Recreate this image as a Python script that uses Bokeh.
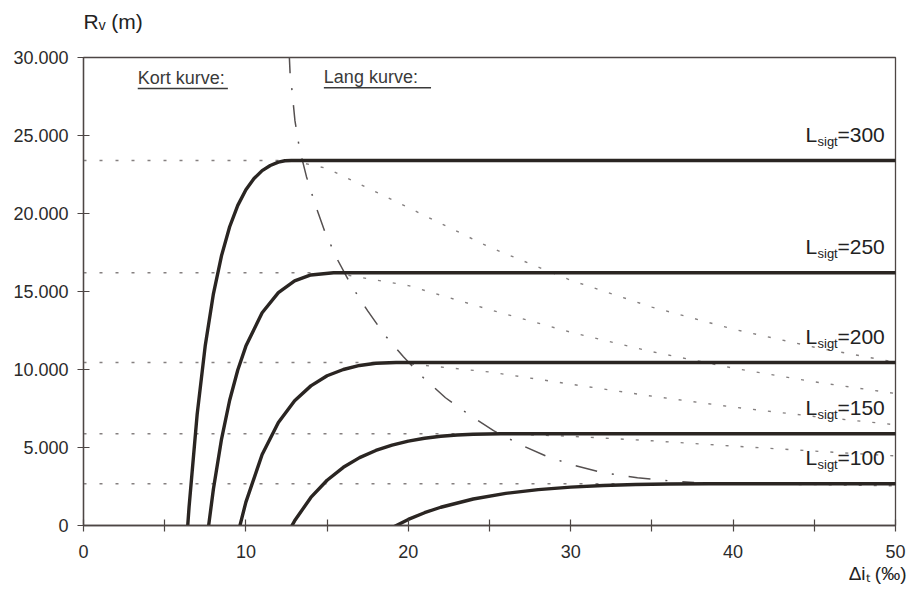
from bokeh.plotting import figure
from bokeh.models import Label, FixedTicker, Title
from bokeh.embed import file_html
from bokeh.resources import INLINE

# ---- data ----
l_sigt = [300, 250, 200, 150, 100]
r_plateau = [23400, 16200, 10450, 5880, 2680]
tangent_di = [12.8, 15.4, 19.25, 25.7, 38.5]

# thick curves (short curve part rising to the plateau, then plateau to 50 permille)
curve_di_300 = [6.35, 6.5, 7, 7.5, 8, 8.5, 9, 9.5, 10, 10.5, 11, 11.5, 12, 12.4, 12.8, 50]
curve_r_300 = [-1000, 1180, 7140, 11560, 14850, 17300, 19150, 20520, 21520, 22240, 22750, 23080, 23290, 23380, 23400, 23400]
curve_di_250 = [7.62, 8, 8.5, 9, 9.5, 10, 11, 12, 13, 14, 15.4, 50]
curve_r_250 = [-690, 2340, 5540, 8030, 9970, 11500, 13640, 14930, 15680, 16060, 16200, 16200]
curve_di_200 = [9.5, 10, 11, 12, 13, 14, 15, 16, 17, 18, 19.25, 50]
curve_r_200 = [-550, 1500, 4550, 6600, 8000, 8950, 9600, 10000, 10260, 10400, 10450, 10450]
curve_di_150 = [12.5, 13, 14, 15, 16, 17, 18, 19, 20, 21, 22, 23, 24, 25.7, 50]
curve_r_150 = [-640, 300, 1800, 2900, 3730, 4350, 4810, 5150, 5410, 5590, 5720, 5800, 5850, 5880, 5880]
curve_di_100 = [18.3, 19, 20, 21, 22, 24, 26, 28, 30, 32, 34, 36, 38.5, 50]
curve_r_100 = [-580, -140, 390, 820, 1170, 1700, 2060, 2300, 2460, 2560, 2630, 2665, 2680, 2680]

# dotted continuation of the short-curve expression beyond its maximum
cont_di_300 = [12.8, 15, 20, 25, 30, 35, 40, 45, 50]
cont_r_300 = [23400, 22890, 20380, 17840, 15720, 14000, 12590, 11430, 10460]
cont_di_250 = [15.4, 20, 25, 30, 35, 40, 45, 50]
cont_r_250 = [16200, 15380, 13840, 12390, 11140, 10090, 9210, 8460]
cont_di_200 = [19.25, 25, 30, 35, 40, 45, 50]
cont_r_200 = [10450, 9840, 9060, 8290, 7590, 6990, 6460]
cont_di_150 = [25.7, 30, 35, 40, 45, 50]
cont_r_150 = [5880, 5720, 5430, 5090, 4770, 4460]
cont_di_100 = [38.5, 40, 45, 50]
cont_r_100 = [2680, 2670, 2620, 2540]

# dash-dot boundary between short and long curves
boundary_di = [12.66, 12.72, 12.84, 13.02, 13.3, 13.73, 14.29, 14.86, 15.64, 16.5, 17.49,
               18.53, 19.7, 20.93, 22.29, 23.83, 25.25, 26.91, 28.57, 30.29, 32.02, 34.11, 36.02, 37.6]
boundary_r = [30400, 29000, 27870, 25950, 24150, 22360, 20500, 18830, 17040, 15370, 13770,
              12230, 10820, 9470, 8190, 7040, 6080, 5180, 4410, 3830, 3380, 3060, 2870, 2760]

y_ticks = [0, 5000, 10000, 15000, 20000, 25000, 30000]
y_tick_labels = ["0", "5.000", "10.000", "15.000", "20.000", "25.000", "30.000"]
x_ticks = [0, 10, 20, 30, 40, 50]
x_minor_ticks = [5, 15, 25, 35, 45]

curves_di = [curve_di_300, curve_di_250, curve_di_200, curve_di_150, curve_di_100]
curves_r = [curve_r_300, curve_r_250, curve_r_200, curve_r_150, curve_r_100]
conts_di = [cont_di_300, cont_di_250, cont_di_200, cont_di_150, cont_di_100]
conts_r = [cont_r_300, cont_r_250, cont_r_200, cont_r_150, cont_r_100]

FONT = "Liberation Sans"
AXIS_COL = "#4d4644"
INK = "#2a2522"
DOT_COL = "#858080"

p = figure(width=910, height=589, x_range=(0, 50), y_range=(0, 30000),
           output_backend="svg", toolbar_location=None,
           min_border_left=83, min_border_right=15, min_border_top=57, min_border_bottom=64)
p.grid.visible = False
p.background_fill_color = "white"
p.border_fill_color = "white"
p.outline_line_color = AXIS_COL
p.outline_line_width = 1.3

# y axis title (above, left aligned); the second (blank) line lifts it above the frame
p.title.text = "Rᵥ (m)\n "
p.title.align = "left"
p.title.text_font = FONT
p.title.text_font_size = "21px"
p.title.text_font_style = "normal"
p.title.text_color = "#222"
p.title.standoff = 4
p.title.offset = 0

for ax in (p.xaxis[0], p.yaxis[0]):
    ax.axis_line_color = AXIS_COL
    ax.axis_line_width = 1.3
    ax.major_tick_line_color = AXIS_COL
    ax.minor_tick_line_color = AXIS_COL
    ax.major_tick_line_width = 1.2
    ax.minor_tick_line_width = 1.2
    ax.major_tick_in = 6
    ax.major_tick_out = 6
    ax.major_label_text_font = FONT
    ax.major_label_text_font_size = "18px"
    ax.major_label_text_color = "#2b2b2b"

p.yaxis[0].ticker = FixedTicker(ticks=y_ticks)
p.yaxis[0].major_label_overrides = {t: s for t, s in zip(y_ticks, y_tick_labels)}
p.yaxis[0].major_label_standoff = 9
p.yaxis[0].minor_tick_line_color = None

p.xaxis[0].ticker = FixedTicker(ticks=x_ticks, minor_ticks=x_minor_ticks)
p.xaxis[0].minor_tick_in = 6
p.xaxis[0].minor_tick_out = 6
p.xaxis[0].major_label_standoff = 13

# x axis title (below, right aligned)
xt = Title(text="Δiₜ (‰)", align="right", offset=-11, text_font=FONT, text_font_size="19px",
           text_font_style="normal", text_color="#222", standoff=0)
p.add_layout(xt, "below")

# dotted plateau extensions and continuations
for R, t in zip(r_plateau, tangent_di):
    p.line([0, t], [R, R], line_color=DOT_COL, line_width=1.4, line_dash="3 13")
for xs, ys in zip(conts_di, conts_r):
    p.line(xs, ys, line_color=DOT_COL, line_width=1.4, line_dash="3 12")

# dash-dot boundary
p.line(boundary_di, boundary_r, line_color="#555050", line_width=1.5, line_dash="22 15 2 15")

# thick curves
for xs, ys in zip(curves_di, curves_r):
    p.line(xs, ys, line_color=INK, line_width=3.4, line_join="round", line_cap="round")

# curve labels  L_sigt=...
for L, R in zip(l_sigt, r_plateau):
    p.add_layout(Label(x=50, y=R, text="L", text_font=FONT, text_font_size="21px",
                       text_color="#222", text_align="left", text_baseline="alphabetic",
                       x_offset=-90, y_offset=26))
    p.add_layout(Label(x=50, y=R, text="sigt", text_font=FONT, text_font_size="13px",
                       text_color="#222", text_align="left", text_baseline="alphabetic",
                       x_offset=-78, y_offset=19))
    p.add_layout(Label(x=50, y=R, text="=" + str(L), text_font=FONT, text_font_size="21px",
                       text_color="#222", text_align="left", text_baseline="alphabetic",
                       x_offset=-58, y_offset=26))

# region texts
p.add_layout(Label(x=3.34, y=28680, text="Kort kurve:", text_font=FONT, text_font_size="18px",
                   text_color="#3a3a3a", text_align="left", text_baseline="alphabetic"))
p.segment(x0=[3.34], y0=[28010], x1=[8.89], y1=[28010], line_color="#3a3a3a", line_width=1.4)
p.add_layout(Label(x=14.8, y=28740, text="Lang kurve:", text_font=FONT, text_font_size="18px",
                   text_color="#3a3a3a", text_align="left", text_baseline="alphabetic"))
p.segment(x0=[14.8], y0=[28065], x1=[21.4], y1=[28065], line_color="#3a3a3a", line_width=1.4)

open("out.html", "w").write(file_html(p, INLINE))
